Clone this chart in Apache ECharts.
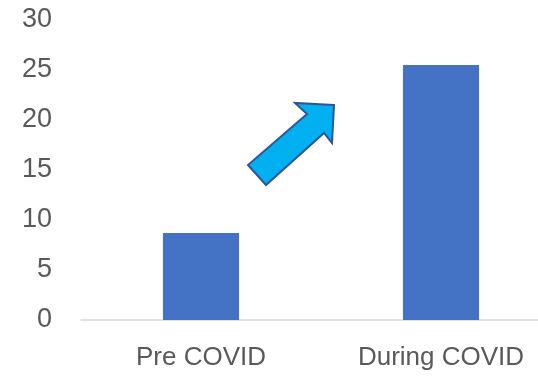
<!DOCTYPE html>
<html>
<head>
<meta charset="utf-8">
<script src="https://cdn.jsdelivr.net/npm/echarts@6/dist/echarts.min.js"></script>
<style>
  html, body { margin: 0; padding: 0; background: #fff; }
  #chart { width: 538px; height: 379px; }
</style>
</head>
<body>
<div id="chart"></div>
<script>
var categories = ["Pre COVID", "During COVID"];
var values = [8.7, 25.5];
var yTicks = [0, 5, 10, 15, 20, 25, 30];

var myChart = echarts.init(document.getElementById("chart"));

myChart.setOption({
  animation: false,
  grid: { left: 81, width: 480, top: 20, bottom: 59, outerBoundsMode: "none" },
  xAxis: {
    type: "category",
    data: categories,
    axisTick: { show: false },
    axisLine: { lineStyle: { color: "#D9D9D9", width: 1.5 } },
    axisLabel: {
      color: "#595959",
      fontSize: 26,
      fontFamily: "Liberation Sans",
      margin: 25
    }
  },
  yAxis: {
    type: "value",
    min: yTicks[0],
    max: yTicks[yTicks.length - 1],
    interval: 5,
    splitLine: { show: false },
    axisLine: { show: false },
    axisTick: { show: false },
    axisLabel: {
      color: "#595959",
      fontSize: 27,
      fontFamily: "Liberation Sans",
      margin: 29
    }
  },
  series: [
    {
      type: "bar",
      data: values,
      barWidth: "31.7%",
      itemStyle: { color: "#4472C4" }
    }
  ],
  graphic: [
    {
      // decorative arrow
      type: "polygon",
      shape: {
        points: [
          [334, 105], [295, 103], [307, 114], [248, 165],
          [266, 185], [324, 133], [332, 143]
        ]
      },
      style: { fill: "#00B0F0", stroke: "#2F5597", lineWidth: 2 }
    }
  ]
});
</script>
</body>
</html>
